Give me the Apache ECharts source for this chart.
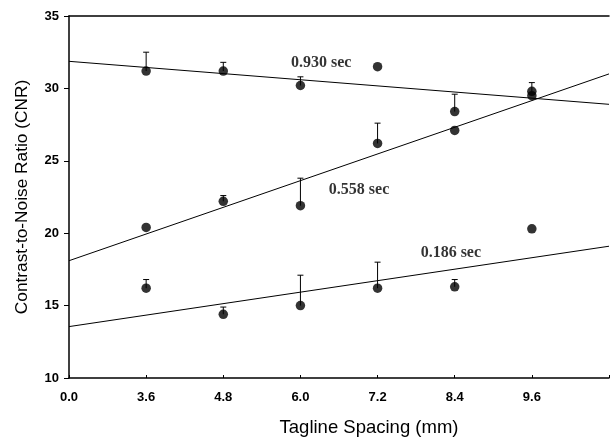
<!DOCTYPE html>
<html>
<head>
<meta charset="utf-8">
<script src="https://cdn.jsdelivr.net/npm/echarts@6/dist/echarts.min.js"></script>
<style>html,body{margin:0;padding:0;background:#fff;}#c{width:612px;height:442px;}</style>
</head>
<body>
<div id="c"></div>
<script>
// tick labels at evenly spaced positions 0..6
var xTickLabels = ['0.0', '3.6', '4.8', '6.0', '7.2', '8.4', '9.6'];
var xPos = [1, 2, 3, 4, 5, 6];

// 0.930 sec
var cnr930 = [31.2, 31.2, 30.2, 31.5, 28.4, 29.8];
var err930 = [32.5, 31.8, 30.8, null, 29.6, 30.4];
// 0.558 sec
var cnr558 = [20.4, 22.2, 21.9, 26.2, 27.1, 29.5];
var err558 = [null, 22.6, 23.8, 27.6, null, null];
// 0.186 sec
var cnr186 = [16.2, 14.4, 15.0, 16.2, 16.3, 20.3];
var err186 = [16.8, 14.9, 17.1, 18.0, 16.8, null];

// regression lines (start at position 0, end at right edge 7)
var fit930 = [[0, 31.87], [7, 28.9]];
var fit558 = [[0, 18.1], [7, 31.0]];
var fit186 = [[0, 13.55], [7, 19.1]];

// annotation labels
var notes = [[3.27, 31.75, '0.930 sec'], [3.76, 23.0, '0.558 sec'], [4.95, 18.63, '0.186 sec']];

function pts(vals) { return xPos.map(function (x, i) { return [x, vals[i]]; }); }
function errs(vals, tops) {
  var out = [];
  xPos.forEach(function (x, i) { if (tops[i] != null) out.push([x, vals[i], tops[i]]); });
  return out;
}

var errRender = function (params, api) {
  var p0 = api.coord([api.value(0), api.value(1)]);
  var p1 = api.coord([api.value(0), api.value(2)]);
  var st = { stroke: '#000', lineWidth: 1 };
  return {
    type: 'group',
    children: [
      { type: 'line', shape: { x1: p0[0], y1: p0[1], x2: p1[0], y2: p1[1] }, style: st },
      { type: 'line', shape: { x1: p1[0] - 3, y1: p1[1], x2: p1[0] + 3, y2: p1[1] }, style: st }
    ]
  };
};

function scatter(vals) {
  return { type: 'scatter', data: pts(vals), symbol: 'circle', symbolSize: 9.5, itemStyle: { color: '#000' }, z: 5 };
}
function fit(d) {
  return { type: 'line', data: d, symbol: 'none', lineStyle: { color: '#000', width: 1 }, z: 3 };
}
function err(vals, tops) {
  return { type: 'custom', renderItem: errRender, data: errs(vals, tops), z: 4 };
}

var chart = echarts.init(document.getElementById('c'));
chart.setOption({
  animation: false,
  grid: { left: 69, right: 0, top: 16, bottom: 61 },
  xAxis: [{
    type: 'value', min: 0, max: 7, interval: 1,
    name: 'Tagline Spacing (mm)', nameLocation: 'middle', nameGap: 40,
    nameTextStyle: { fontFamily: 'Liberation Sans, Arial', fontSize: 18.5, color: '#000', padding: [0, 0, 0, 60] },
    axisLine: { lineStyle: { color: '#000', width: 1.5 } },
    axisTick: { inside: true, length: 3, lineStyle: { color: '#000' } },
    axisLabel: {
      fontFamily: 'Liberation Sans, Arial', fontSize: 13, fontWeight: 'bold', color: '#000', margin: 13,
      formatter: function (v) { return xTickLabels[v] !== undefined ? xTickLabels[v] : ''; }
    },
    splitLine: { show: false }
  }, {
    type: 'value', min: 0, max: 7, position: 'top',
    axisLine: { show: true, lineStyle: { color: '#000', width: 1.5 } },
    axisTick: { show: false }, axisLabel: { show: false }, splitLine: { show: false }
  }],
  yAxis: {
    type: 'value', min: 10, max: 35, interval: 5,
    name: 'Contrast-to-Noise Ratio (CNR)', nameLocation: 'middle', nameGap: 38,
    nameTextStyle: { fontFamily: 'Liberation Sans, Arial', fontSize: 17.3, color: '#000' },
    axisLine: { show: true, lineStyle: { color: '#000', width: 1.5 } },
    axisTick: { show: true, length: 5, lineStyle: { color: '#000' } },
    axisLabel: { fontFamily: 'Liberation Sans, Arial', fontSize: 13, fontWeight: 'bold', color: '#000', margin: 10 },
    splitLine: { show: false }
  },
  series: [
    fit(fit930), fit(fit558), fit(fit186),
    err(cnr930, err930), err(cnr558, err558), err(cnr186, err186),
    scatter(cnr930), scatter(cnr558), scatter(cnr186),
    {
      type: 'scatter', data: notes, symbolSize: 0, z: 6,
      label: {
        show: true, position: 'inside', color: '#000',
        fontFamily: 'Liberation Serif, Times New Roman', fontWeight: 'bold', fontSize: 16,
        formatter: function (p) { return p.data[2]; }
      }
    }
  ]
});
</script>
</body>
</html>
